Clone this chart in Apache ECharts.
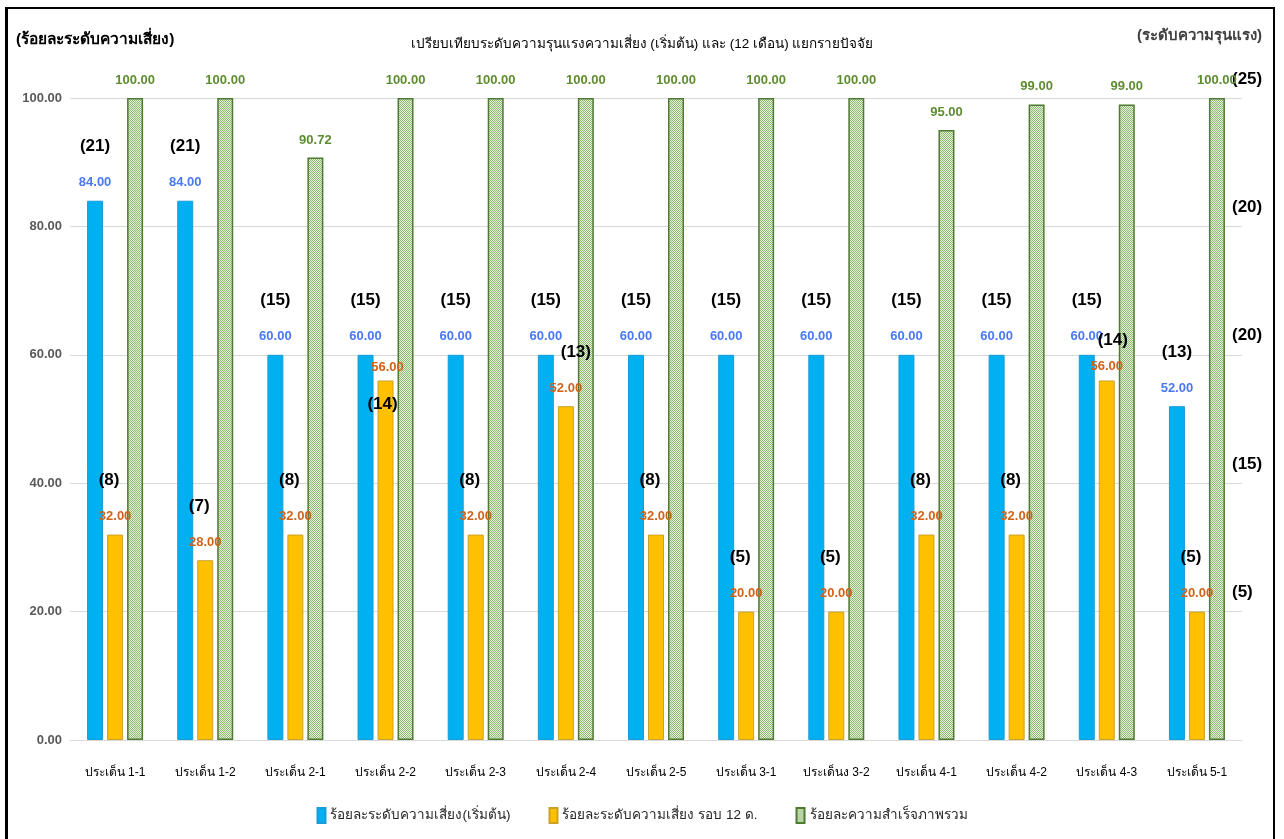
<!DOCTYPE html>
<html>
<head>
<meta charset="utf-8">
<script src="https://cdn.jsdelivr.net/npm/echarts@6/dist/echarts.min.js"></script>
<style>
  html, body { margin: 0; padding: 0; background: #fff; }
  #frame { position: absolute; left: 5px; top: 7px; width: 1265px; height: 850px;
           border-left: 3px solid #000; border-top: 2px solid #000; border-right: 2px solid #000; }
  #chart { position: absolute; left: 0; top: 0; width: 1284px; height: 839px; }
</style>
</head>
<body>
<div id="frame"></div>
<div id="chart"></div>
<script>
const categories = ['ประเด็น 1-1','ประเด็น 1-2','ประเด็น 2-1','ประเด็น 2-2','ประเด็น 2-3','ประเด็น 2-4','ประเด็น 2-5','ประเด็น 3-1','ประเด็นง 3-2','ประเด็น 4-1','ประเด็น 4-2','ประเด็น 4-3','ประเด็น 5-1'];
const initialPct   = [84, 84, 60, 60, 60, 60, 60, 60, 60, 60, 60, 60, 52];
const initialLevel = [21, 21, 15, 15, 15, 15, 15, 15, 15, 15, 15, 15, 13];
const month12Pct   = [32, 28, 32, 56, 32, 52, 32, 20, 20, 32, 32, 56, 20];
const month12Level = [8, 7, 8, 14, 8, 13, 8, 5, 5, 8, 8, 14, 5];
const successPct   = [100, 100, 90.72, 100, 100, 100, 100, 100, 100, 95, 99, 99, 100];
const leftTicks = [0, 20, 40, 60, 80, 100];
const rightTickLabels = ['', '(5)', '(15)', '(20)', '(20)', '(25)'];
const seriesNames = ['ร้อยละระดับความเสี่ยง(เริ่มต้น)', 'ร้อยละระดับความเสี่ยง รอบ 12 ด.', 'ร้อยละความสำเร็จภาพรวม'];

const FONT = '"Liberation Sans", "Noto Sans", sans-serif';

// green checkered pattern
const pc = document.createElement('canvas');
pc.width = 4; pc.height = 4;
const g = pc.getContext('2d');
g.fillStyle = '#E4F0DB'; g.fillRect(0, 0, 4, 4);
g.fillStyle = '#90B972';
for (let y = 0; y < 4; y++) for (let x = 0; x < 4; x++) if ((x + y) % 2 === 0) g.fillRect(x, y, 1, 1);
const greenPattern = { image: pc, repeat: 'repeat' };

const richBase = {
  a: { fontFamily: FONT, fontSize: 17, fontWeight: 'bold', color: '#000', lineHeight: 52 },
  b: { fontSize: 13, fontWeight: 'bold', lineHeight: 20, fontFamily: FONT }
};

function levelLabel(levels, color, aPad) {
  return {
    show: true, position: 'top', distance: 8,
    formatter: p => `{a|(${levels[p.dataIndex]})}\n{b|${p.value.toFixed(2)}}`,
    rich: {
      a: Object.assign({}, richBase.a, { padding: aPad }),
      b: Object.assign({}, richBase.b, { color: color })
    }
  };
}

// per-item label placement tweaks for the 12-month series (styles only)
const orangeTweaks = {
  3: { formatter: p => `{b|${p.value.toFixed(2)}}\n{c|(${month12Level[p.dataIndex]})}`, offset: [2, 59],
       rich: { c: { fontFamily: FONT, fontSize: 17, fontWeight: 'bold', color: '#000', lineHeight: 54, padding: [0, 10, 0, 0] } } },
  5: { rich: { a: Object.assign({}, richBase.a, { padding: [0, 0, 0, 20] }) } },
  11: { distance: 4, rich: { a: Object.assign({}, richBase.a, { lineHeight: 32, padding: [0, 0, 0, 12] }) } }
};

const orangeData = month12Pct.map((v, i) => orangeTweaks[i] ? { value: v, label: orangeTweaks[i] } : v);

const chart = echarts.init(document.getElementById('chart'));
chart.setOption({
  animation: false,
  textStyle: { fontFamily: FONT },
  title: [
    { text: '(ร้อยละระดับความเสี่ยง)', left: 11, top: 27, textStyle: { fontSize: 15.5, fontWeight: 'bold', color: '#000', fontFamily: FONT } },
    { text: 'เปรียบเทียบระดับความรุนแรงความเสี่ยง (เริ่มต้น) และ (12 เดือน) แยกรายปัจจัย', left: 'center', top: 32, textStyle: { fontSize: 13.5, fontWeight: 'normal', color: '#000', fontFamily: FONT } },
    { text: '(ระดับความรุนแรง)', right: 17, top: 23, textStyle: { fontSize: 15, fontWeight: 'bold', color: '#404040', fontFamily: FONT } }
  ],
  legend: {
    bottom: 10, left: 'center', icon: 'rect', itemWidth: 8, itemHeight: 15, itemGap: 38,
    textStyle: { fontSize: 13.5, color: '#262626', fontFamily: FONT },
    data: seriesNames
  },
  grid: { left: 70, right: 42, top: 98, bottom: 99, containLabel: false },
  xAxis: {
    type: 'category', data: categories,
    axisLine: { lineStyle: { color: '#D9D9D9' } },
    axisTick: { show: false },
    axisLabel: { margin: 27, fontSize: 12, color: '#000', fontFamily: FONT, interval: 0 }
  },
  yAxis: [
    { type: 'value', min: 0, max: 100, interval: 20,
      axisLine: { show: false }, axisTick: { show: false },
      splitLine: { lineStyle: { color: '#D9D9D9' } },
      axisLabel: { margin: 8, fontSize: 13, fontWeight: 'bold', color: '#595959', fontFamily: FONT, formatter: v => v.toFixed(2) } },
    { type: 'value', min: 0, max: 100, interval: 20, position: 'right',
      axisLine: { show: false }, axisTick: { show: false }, splitLine: { show: false },
      axisLabel: { margin: -10, fontSize: 17, fontWeight: 'bold', color: '#000', fontFamily: FONT,
        verticalAlign: 'bottom', lineHeight: 38,
        formatter: v => rightTickLabels[leftTicks.indexOf(v)] || '' } }
  ],
  series: [
    { name: seriesNames[0], type: 'bar', barWidth: 16, barGap: '25%', data: initialPct,
      itemStyle: { color: '#00B0F0', borderColor: '#1A9CD8', borderWidth: 1 },
      label: levelLabel(initialLevel, '#4A78F5', [0, 0, 0, 0]) },
    { name: seriesNames[1], type: 'bar', barWidth: 16, barGap: '25%', data: orangeData,
      itemStyle: { color: '#FFC000', borderColor: '#C9A227', borderWidth: 1 },
      label: levelLabel(month12Level, '#D0631A', [0, 12, 0, 0]) },
    { name: seriesNames[2], type: 'bar', barWidth: 16, barGap: '25%', data: successPct,
      itemStyle: { color: greenPattern, borderColor: '#4E7A32', borderWidth: 1.5 },
      label: { show: true, position: 'top', distance: 11, fontSize: 13, fontWeight: 'bold', color: '#5E8C30', fontFamily: FONT,
        formatter: p => p.value.toFixed(2) } }
  ]
});
</script>
</body>
</html>
